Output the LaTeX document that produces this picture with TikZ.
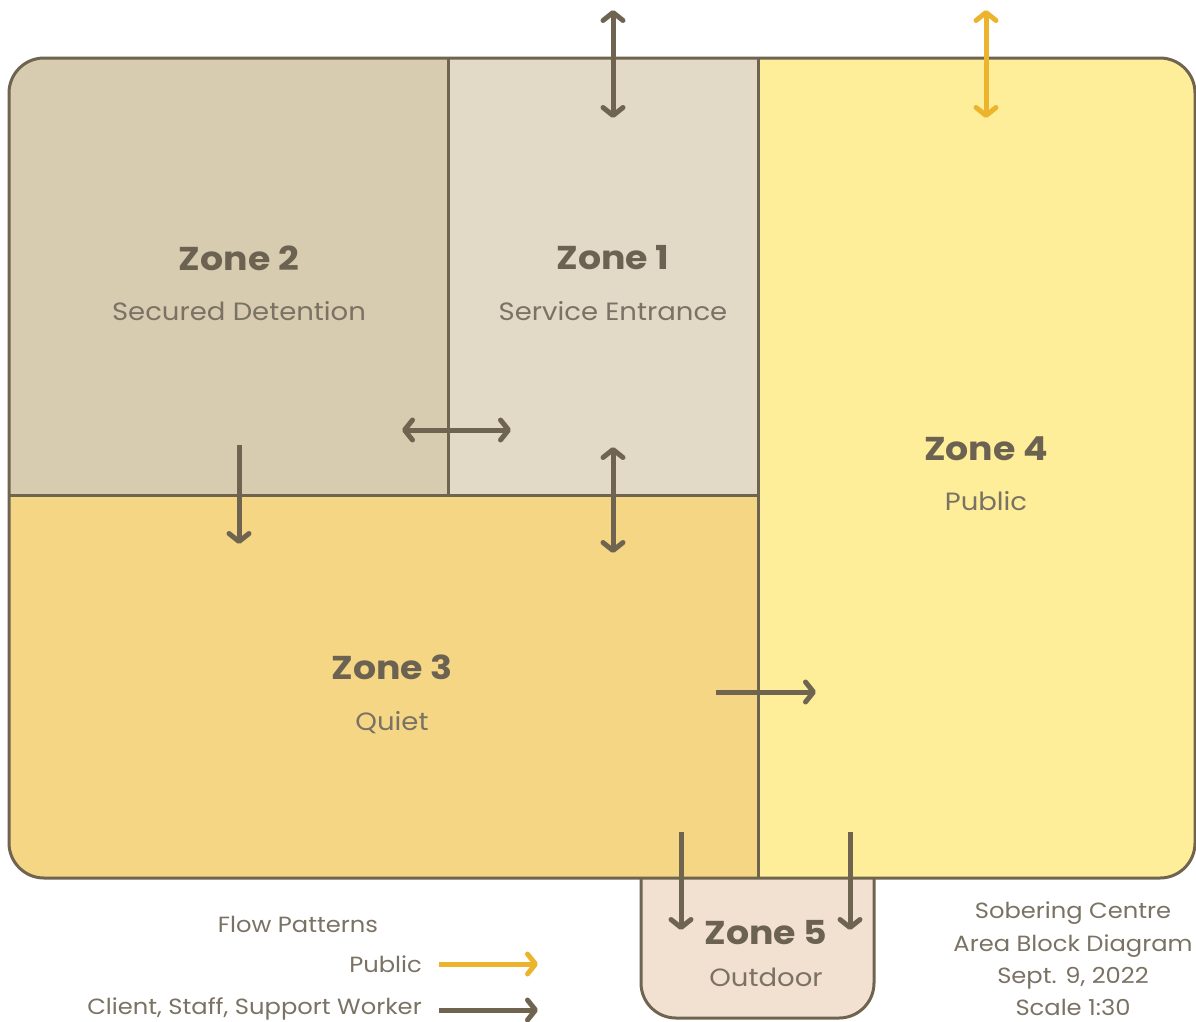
\documentclass[tikz,border=0pt]{standalone}
\usepackage{fontspec}
\setmainfont{Poppins}[FakeStretch=1.1]
\usetikzlibrary{arrows.meta}
\definecolor{linec}{HTML}{6E6450}
\definecolor{arrc}{HTML}{6E6450}
\definecolor{pubc}{HTML}{ECB42C}
\definecolor{ztwo}{HTML}{D7CBB0}
\definecolor{zone}{HTML}{E2D9C6}
\definecolor{zthree}{HTML}{F4D684}
\definecolor{zfour}{HTML}{FEED99}
\definecolor{zfive}{HTML}{F2E1D1}
\definecolor{txtc}{HTML}{6B6252}
\definecolor{subc}{HTML}{7A7264}
\begin{document}
\begin{tikzpicture}[x=1pt,y=-1pt,
  barb/.tip={Straight Barb[length=8pt,width=20pt,round]},
  flow/.style={line width=5pt, draw=arrc, -barb},
  flowtwo/.style={line width=5pt, draw=arrc, barb-barb},
  pubflow/.style={line width=5pt, draw=pubc, -barb},
  pubflowtwo/.style={line width=5pt, draw=pubc, barb-barb},
  wall/.style={draw=linec, line width=3pt},
  ztitle/.style={font=\fontsize{33}{36}\selectfont\bfseries, text=txtc, inner sep=0pt},
  zsub/.style={font=\fontsize{25}{28}\selectfont, text=subc, inner sep=0pt},
  legend/.style={font=\fontsize{22}{24}\selectfont, text=subc, inner sep=0pt}]
\useasboundingbox (0,0) rectangle (1196,1021);
% Zone 5
\path[fill=zfive, draw=linec, line width=3pt, rounded corners=35pt]
  (641,870) -- (641,1018) -- (874,1018) -- (874,870);
% main block fills
\begin{scope}
  \clip[rounded corners=35pt] (9,58) rectangle (1195,878);
  \fill[ztwo] (9,58) rectangle (448,495);
  \fill[zone] (448,58) rectangle (758,495);
  \fill[zthree] (9,495) rectangle (758,878);
  \fill[zfour] (758,58) rectangle (1195,878);
\end{scope}
\draw[wall] (448,58) -- (448,495);
\draw[wall] (758,58) -- (758,878);
\draw[wall] (9,495) -- (758,495);
\draw[wall, rounded corners=35pt] (9,58) rectangle (1195,878);
% zone labels
\node[ztitle] (z2t) at (239,258) {Zone 2};
\node[zsub] (z2s) at (239,311) {Secured Detention};
\node[ztitle] (z1t) at (613,258) {Zone 1};
\node[zsub] (z1s) at (613,311) {Service Entrance};
\node[ztitle] (z4t) at (986,449) {Zone 4};
\node[zsub] (z4s) at (986,501) {Public};
\node[ztitle] (z3t) at (392,667) {Zone 3};
\node[zsub] (z3s) at (392,723) {Quiet};
\node[ztitle] (z5t) at (766,933) {Zone 5};
\node[zsub] (z5s) at (766,977) {Outdoor};
% flow arrow ends
\coordinate (a1) at (613,10);   \coordinate (b1) at (613,118);
\coordinate (a2) at (986,10);   \coordinate (b2) at (986,118);
\coordinate (a3) at (402,430);  \coordinate (b3) at (511,430);
\coordinate (a4) at (239,445);  \coordinate (b4) at (239,544);
\coordinate (a5) at (613,447);  \coordinate (b5) at (613,553);
\coordinate (a6) at (716,692);  \coordinate (b6) at (816,692);
\coordinate (a7) at (681,832);  \coordinate (b7) at (681,930);
\coordinate (a8) at (850,832);  \coordinate (b8) at (850,930);
\draw[flowtwo] (a1) -- (b1);
\draw[pubflowtwo] (a2) -- (b2);
\draw[flowtwo] (a3) -- (b3);
\draw[flow] (a4) -- (b4);
\draw[flowtwo] (a5) -- (b5);
\draw[flow] (a6) -- (b6);
\draw[flow] (a7) -- (b7);
\draw[flow] (a8) -- (b8);
% legend
\node[legend] (fp) at (298,924) {Flow Patterns};
\node[legend, anchor=east] (lpub) at (422,964) {Public};
\node[legend, anchor=east] (lcsw) at (422,1009) {Client, Staff, Support Worker};
\coordinate (lpa) at (439,964);  \coordinate (lpb) at (538,964);
\coordinate (lca) at (439,1010); \coordinate (lcb) at (538,1010);
\draw[pubflow] (lpa) -- (lpb);
\draw[flow] (lca) -- (lcb);
% title block
\node[legend, align=center, font=\fontsize{22}{32.3}\selectfont] (info) at (1073,959)
  {Sobering Centre\\Area Block Diagram\\Sept. 9, 2022\\Scale 1:30};
\end{tikzpicture}
\end{document}
